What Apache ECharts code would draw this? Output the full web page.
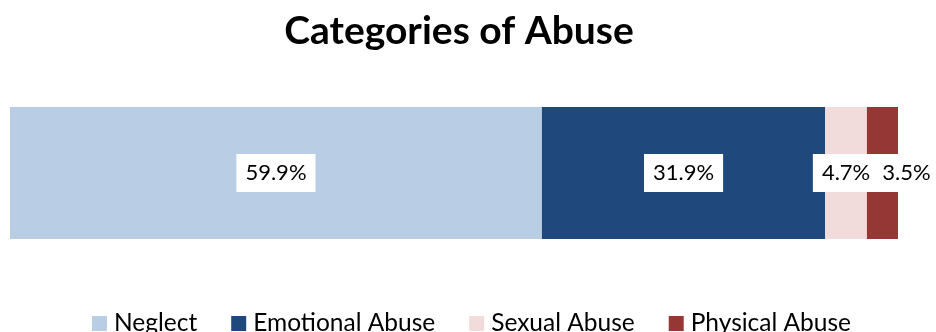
<!DOCTYPE html>
<html>
<head>
<meta charset="utf-8">
<script src="https://cdn.jsdelivr.net/npm/echarts@6/dist/echarts.min.js"></script>
<style>
  html, body { margin: 0; padding: 0; background: #fff; }
  #chart { width: 936px; height: 332px; }
</style>
</head>
<body>
<div id="chart"></div>
<script>
// Share of cases by category of abuse (percent)
const categories = ['Categories of Abuse'];
const seriesNames = ['Neglect', 'Emotional Abuse', 'Sexual Abuse', 'Physical Abuse'];
const seriesValues = [59.9, 31.9, 4.7, 3.5];
const seriesColors = ['#B9CDE5', '#1F497D', '#F2DCDB', '#953735'];
// horizontal nudge of each value label so the narrow ones do not collide
const labelShift = [0, 0, 0, 24];

const FONT = 'Lato, "Open Sans", sans-serif';

const chart = echarts.init(document.getElementById('chart'));

const series = seriesNames.map((name, i) => ({
  name: name,
  type: 'bar',
  stack: 'total',
  barWidth: 132,
  data: [seriesValues[i]],
  itemStyle: { color: seriesColors[i] },
  label: {
    show: true,
    position: 'inside',
    offset: [labelShift[i], 0],
    overflow: 'none',
    formatter: p => p.value.toFixed(1) + '%',
    color: '#000',
    fontFamily: FONT,
    fontSize: 22,
    backgroundColor: '#fff',
    padding: [8, 9, 8, 9]
  },
  emphasis: { disabled: true }
}));

chart.setOption({
  animation: false,
  title: {
    text: 'Categories of Abuse',
    left: 454,
    textAlign: 'center',
    top: 7,
    textStyle: { fontFamily: FONT, fontWeight: 'bold', fontSize: 39, color: '#000' }
  },
  legend: {
    data: seriesNames,
    left: 87,
    top: 306,
    itemWidth: 15,
    itemHeight: 15,
    itemGap: 34,
    icon: 'rect',
    textStyle: { fontFamily: FONT, fontSize: 24.5, color: '#000', padding: [0, 0, 0, 2] }
  },
  grid: { left: 10, right: 38, top: 107, height: 132 },
  xAxis: {
    type: 'value',
    min: 0,
    max: 100,
    show: false
  },
  yAxis: {
    type: 'category',
    data: categories,
    show: false
  },
  series: series
});
</script>
</body>
</html>
